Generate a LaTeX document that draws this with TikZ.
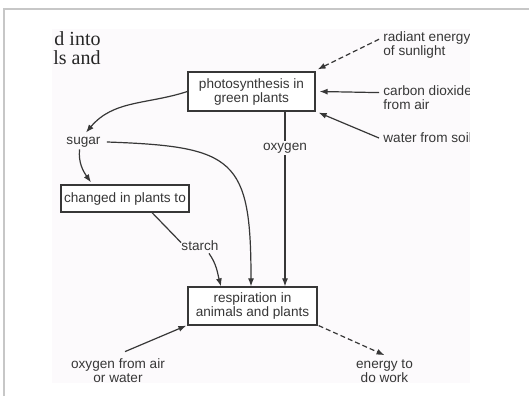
\documentclass[tikz,border=0pt]{standalone}
\usepackage{fontspec}
\setmainfont{Liberation Serif}
\setsansfont{Liberation Sans}
\usetikzlibrary{arrows.meta, positioning}

\definecolor{scan}{RGB}{252,250,252}
\definecolor{ink}{RGB}{55,55,55}

\begin{document}
\begin{tikzpicture}[
    x=0.5pt, y=0.5pt,
    font=\sffamily\fontsize{6.8}{7}\selectfont,
    % Define styles
    box/.style={
        rectangle,
        draw=ink,
        fill=white,
        text=ink,
        align=center,
        inner sep=1pt,
        line width=0.6pt
    },
    lbl/.style={
        text=ink,
        align=left,
        inner sep=1pt
    },
    line/.style={
        draw,
        -{Latex[length=4pt,width=3pt]},
        line width=0.6pt,
        ink
    },
    dashedline/.style={
        line,
        dash pattern=on 2.5pt off 1.5pt
    },
    plainline/.style={
        draw,
        line width=0.6pt,
        ink
    }
]
\useasboundingbox (0,0) rectangle (529,396);

% Page frame and scanned area
\draw[black!22, line width=1pt] (4,0) -- (4,387) -- (529,387);
\fill[scan] (52,13) rectangle (470,367);

% Cut-off book text
\node[anchor=north east, font=\rmfamily\fontsize{10}{9.5}\selectfont,
      align=right, inner sep=0pt, text=black!85] (frag) at (101,365) {d into\\ls and};

% Place nodes
% Boxes
\node[box, minimum width=63.5pt, minimum height=19.5pt] (photo) at (251.5,304.5) {photosynthesis in\\green plants};
\node[box, minimum width=64pt, minimum height=13.5pt] (changed) at (125,197.5) {changed in plants to};
\node[box, minimum width=64.5pt, minimum height=19pt] (resp) at (252.5,90) {respiration in\\animals and plants};

% Inputs on the right (cut by the scan edge)
\begin{scope}
\clip (0,0) rectangle (469,396);
\node[lbl, anchor=west] (sun) at (381,351) {radiant energy\\of sunlight};
\node[lbl, anchor=west] (co2) at (381,298) {carbon dioxide\\from air};
\node[lbl, anchor=west] (water) at (381,258) {water from soil};
\end{scope}

% Products
\node[lbl] (sugar) at (83.5,254) {sugar};
\node[lbl] (starch) at (200,150) {starch};
\node[lbl, align=center] (oair) at (118,25) {oxygen from air\\or water};
\node[lbl, align=center] (energy) at (384.5,25) {energy to\\do work};

% Draw edges
% Into photosynthesis
\path[dashedline] ([shift={(-1pt,-5pt)}]sun.north west) -- ([shift={(1pt,1pt)}]photo.north east);
\path[line] ([shift={(-1pt,-4.5pt)}]co2.north west) -- ([xshift=2pt]photo.east);
\path[line] ([xshift=-1pt]water.west) -- ([shift={(1.5pt,-0.5pt)}]photo.south east);

% Sugar
\path[line] (photo.west) to[out=198,in=50] ([shift={(1.25pt,1pt)}]sugar.north);
\path[line] ([xshift=2pt]sugar.east) to[out=-2,in=90,looseness=1.6] ([xshift=-0.75pt]resp.north);
\path[line] ([xshift=-2pt]sugar.south) to[out=-95,in=125] ([shift={(-17pt,1pt)}]changed.north);

% Starch
\path[plainline] ([xshift=13.5pt]changed.south) -- ([shift={(1pt,-2pt)}]starch.north west);
\path[line] ([xshift=4.5pt]starch.south) to[out=-55,in=105] ([xshift=-15.75pt]resp.north);

% Oxygen
\path[line] ([xshift=16.75pt]photo.south) -- ([xshift=16.25pt]resp.north)
    node[pos=0.21, fill=scan, inner sep=1pt, text=ink] (oxy) {oxygen};

% Respiration
\path[line] ([shift={(3.5pt,2.5pt)}]oair.north) -- ([shift={(-0.5pt,0pt)}]resp.south west);
\path[dashedline] ([xshift=0.5pt]resp.south east) -- ([yshift=1pt]energy.north);

\end{tikzpicture}
\end{document}
